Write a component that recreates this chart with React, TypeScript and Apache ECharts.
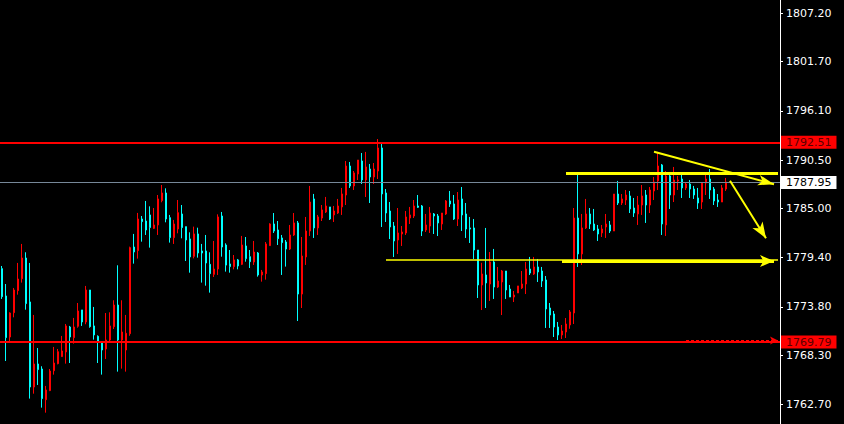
import React, { useEffect, useRef } from "react";
import * as echarts from "echarts";

// OHLC values (one candle every slot, oldest first)
const opens = [
  1778.14, 1775.03, 1770.36, 1773.13, 1775.64, 1777.0, 1779.35, 1774.35, 1764.67, 1767.29,
  1766.72, 1763.23, 1764.26, 1766.53, 1767.33, 1768.13, 1768.66, 1771.5, 1770.29, 1771.58,
  1773.44, 1772.07, 1775.71, 1771.62, 1770.44, 1769.76, 1769.0, 1770.02, 1771.54, 1774.0,
  1770.02, 1768.88, 1770.74, 1780.6, 1780.19, 1783.79, 1783.56, 1784.25, 1782.73, 1783.11,
  1785.88, 1786.75, 1783.94, 1781.67, 1782.65, 1784.36, 1782.92, 1781.52, 1779.54, 1782.09,
  1780.15, 1780.15, 1778.63, 1777.49, 1778.1, 1784.13, 1780.83, 1778.67, 1778.37, 1779.13,
  1778.63, 1780.72, 1779.5, 1778.9, 1779.92, 1777.42, 1777.57, 1780.76, 1783.22, 1782.54,
  1781.63, 1781.17, 1780.37, 1781.97, 1783.34, 1775.25, 1779.47, 1782.42, 1786.07, 1782.77,
  1783.9, 1784.59, 1785.16, 1784.25, 1784.47, 1785.16, 1786.52, 1789.82, 1787.55, 1788.91,
  1790.39, 1788.23, 1789.48, 1788.57, 1789.25, 1791.87, 1786.75, 1784.7, 1782.99, 1781.4,
  1782.08, 1782.2, 1783.9, 1784.13, 1785.27, 1785.27, 1782.54, 1782.99, 1784.36, 1784.13,
  1783.22, 1784.36, 1785.84, 1785.5, 1783.79, 1786.07, 1784.36, 1782.77, 1782.77, 1780.26,
  1776.28, 1777.42, 1776.39, 1778.9, 1776.05, 1776.62, 1777.87, 1775.82, 1774.91, 1775.37,
  1775.94, 1776.39, 1778.1, 1777.53, 1778.33, 1777.87, 1776.85, 1773.66, 1772.98, 1771.5,
  1770.59, 1770.93, 1771.73, 1773.09, 1783.9, 1779.81, 1782.77, 1784.36, 1783.22, 1782.65,
  1782.2, 1782.88, 1783.11, 1782.42, 1786.63, 1785.61, 1785.95, 1786.41, 1785.04, 1784.36,
  1785.38, 1786.52, 1785.38, 1786.98, 1788.12, 1789.94, 1783.11, 1788.69, 1786.52, 1788.12,
  1788.34, 1787.32, 1787.77, 1787.2, 1786.18, 1785.72, 1787.88, 1788.34, 1787.2, 1785.95,
  1785.72, 1787.2,
];
const closes = [
  1774.95, 1770.29, 1773.09, 1775.71, 1776.96, 1779.35, 1774.16, 1764.67, 1767.29, 1766.65,
  1763.35, 1764.33, 1766.49, 1767.4, 1768.69, 1768.77, 1771.62, 1770.36, 1771.5, 1773.32,
  1772.07, 1775.71, 1771.54, 1770.59, 1769.87, 1768.88, 1770.02, 1771.62, 1774.0, 1770.02,
  1770.93, 1770.78, 1780.53, 1780.04, 1783.79, 1783.49, 1782.54, 1782.81, 1783.11, 1786.07,
  1786.75, 1783.79, 1781.67, 1783.22, 1784.51, 1782.81, 1781.4, 1779.47, 1782.09, 1779.92,
  1779.92, 1778.78, 1777.57, 1778.1, 1784.02, 1780.6, 1778.54, 1778.37, 1779.13, 1778.44,
  1780.83, 1779.28, 1778.93, 1780.03, 1777.42, 1777.76, 1780.95, 1783.22, 1782.42, 1781.55,
  1781.1, 1780.37, 1781.97, 1783.34, 1775.25, 1779.58, 1782.42, 1785.72, 1782.77, 1784.02,
  1784.82, 1785.27, 1783.79, 1784.7, 1785.27, 1786.64, 1789.82, 1787.55, 1789.03, 1790.5,
  1788.23, 1789.71, 1788.57, 1789.48, 1791.87, 1786.64, 1784.47, 1782.88, 1781.29, 1782.2,
  1782.31, 1784.02, 1784.25, 1785.27, 1785.12, 1782.42, 1783.11, 1784.47, 1784.13, 1783.34,
  1784.47, 1785.84, 1785.5, 1783.79, 1785.95, 1784.25, 1782.65, 1782.65, 1780.26, 1776.28,
  1777.53, 1776.51, 1778.9, 1776.05, 1776.73, 1777.87, 1775.71, 1774.91, 1775.14, 1776.17,
  1776.39, 1778.1, 1777.64, 1778.33, 1777.76, 1776.73, 1773.55, 1772.86, 1771.5, 1770.59,
  1771.04, 1771.84, 1773.21, 1783.9, 1779.81, 1782.77, 1784.36, 1783.22, 1782.54, 1782.08,
  1782.65, 1783.22, 1782.42, 1786.63, 1785.61, 1786.07, 1786.52, 1784.93, 1784.47, 1785.38,
  1786.41, 1785.38, 1787.09, 1788.0, 1789.82, 1783.22, 1788.69, 1786.52, 1788.23, 1788.23,
  1787.32, 1787.77, 1787.2, 1786.52, 1785.61, 1787.88, 1788.34, 1787.09, 1785.84, 1785.72,
  1787.32, 1788.0,
];
const lows = [
  1774.69, 1767.63, 1769.91, 1772.6, 1775.18, 1776.55, 1773.47, 1763.35, 1763.91, 1764.9,
  1762.32, 1761.75, 1764.2, 1766.08, 1767.25, 1768.09, 1767.33, 1767.4, 1769.6, 1771.42,
  1771.62, 1771.81, 1771.42, 1770.06, 1767.4, 1766.08, 1767.86, 1769.83, 1771.27, 1766.42,
  1766.76, 1766.42, 1770.5, 1778.71, 1779.28, 1781.21, 1781.97, 1780.53, 1782.65, 1781.97,
  1785.69, 1783.41, 1781.1, 1780.95, 1782.16, 1781.59, 1779.01, 1777.68, 1779.31, 1779.39,
  1776.55, 1776.2, 1775.41, 1777.19, 1777.42, 1779.5, 1777.8, 1777.68, 1778.06, 1778.06,
  1778.55, 1778.93, 1778.21, 1778.56, 1777.23, 1776.66, 1776.89, 1780.72, 1782.2, 1780.83,
  1777.42, 1778.37, 1780.26, 1781.86, 1772.18, 1773.66, 1778.56, 1781.86, 1781.63, 1781.97,
  1783.56, 1784.47, 1783.68, 1783.45, 1784.36, 1784.25, 1785.38, 1787.32, 1787.09, 1788.23,
  1787.77, 1786.29, 1785.61, 1787.77, 1788.34, 1782.88, 1783.45, 1781.51, 1779.46, 1779.81,
  1780.72, 1781.97, 1783.22, 1783.9, 1785.04, 1781.85, 1782.31, 1782.2, 1782.08, 1781.85,
  1782.54, 1784.25, 1785.16, 1783.68, 1782.99, 1782.42, 1781.63, 1781.06, 1779.24, 1774.8,
  1773.43, 1773.66, 1774.46, 1774.69, 1775.94, 1772.86, 1774.69, 1774.91, 1774.34, 1775.37,
  1775.82, 1775.25, 1777.42, 1777.42, 1776.62, 1776.05, 1771.39, 1771.39, 1770.36, 1770.02,
  1770.13, 1770.25, 1771.3, 1771.84, 1778.33, 1778.55, 1782.65, 1782.65, 1782.42, 1781.29,
  1781.74, 1781.63, 1782.2, 1782.42, 1785.38, 1785.38, 1785.38, 1784.47, 1784.02, 1783.11,
  1784.25, 1783.34, 1784.47, 1785.95, 1787.09, 1781.97, 1781.86, 1784.93, 1785.72, 1787.09,
  1786.18, 1787.09, 1786.18, 1786.07, 1784.93, 1784.93, 1786.52, 1786.07, 1785.38, 1785.16,
  1785.72, 1786.98,
];
const highs = [
  1778.44, 1776.39, 1773.17, 1775.94, 1778.79, 1780.95, 1780.0, 1778.79, 1772.87, 1769.11,
  1767.03, 1764.79, 1766.72, 1769.23, 1769.0, 1770.48, 1771.84, 1771.62, 1772.53, 1774.23,
  1773.44, 1776.17, 1775.71, 1773.78, 1770.55, 1769.87, 1773.09, 1773.17, 1774.54, 1778.52,
  1774.54, 1772.87, 1780.64, 1782.09, 1784.48, 1784.13, 1785.84, 1785.23, 1785.04, 1786.52,
  1787.66, 1787.28, 1784.25, 1783.68, 1785.95, 1785.38, 1782.92, 1782.27, 1782.92, 1782.8,
  1780.95, 1781.97, 1780.0, 1781.29, 1784.32, 1784.59, 1781.02, 1780.26, 1779.69, 1779.24,
  1781.86, 1781.74, 1780.26, 1781.29, 1780.03, 1777.99, 1781.17, 1783.3, 1784.47, 1783.56,
  1781.97, 1781.4, 1783.11, 1784.47, 1783.56, 1781.74, 1784.02, 1787.55, 1786.64, 1784.25,
  1785.38, 1786.3, 1785.16, 1785.27, 1786.07, 1787.32, 1790.39, 1790.28, 1789.25, 1790.5,
  1791.3, 1791.42, 1790.05, 1790.16, 1792.89, 1792.32, 1787.2, 1785.72, 1783.45, 1785.04,
  1782.99, 1784.7, 1785.16, 1785.95, 1786.52, 1785.38, 1784.36, 1785.16, 1784.47, 1784.36,
  1784.47, 1785.95, 1786.98, 1786.52, 1786.86, 1787.43, 1785.61, 1784.02, 1783.79, 1780.26,
  1778.8, 1782.77, 1780.03, 1780.38, 1778.33, 1777.99, 1777.87, 1776.28, 1775.6, 1776.17,
  1777.87, 1778.9, 1779.47, 1779.47, 1779.24, 1778.33, 1777.3, 1774.23, 1773.32, 1772.07,
  1771.73, 1772.52, 1773.43, 1785.04, 1788.91, 1784.36, 1786.07, 1785.04, 1784.93, 1783.11,
  1783.11, 1784.36, 1783.56, 1786.63, 1788.12, 1786.63, 1787.09, 1786.98, 1786.18, 1786.41,
  1787.66, 1787.09, 1787.43, 1788.57, 1791.42, 1790.05, 1789.25, 1789.14, 1789.71, 1788.69,
  1788.8, 1788.0, 1788.23, 1787.55, 1787.32, 1788.0, 1788.91, 1789.48, 1787.43, 1786.63,
  1787.66, 1788.46,
];

// Slots on the time axis (data + empty space on the right)
const slotCount = 195;
const categories = Array.from({ length: slotCount }, (_, i) => String(i + 1));

// Right axis tick labels
const tickValues = [1807.2, 1801.7, 1796.1, 1790.5, 1785.0, 1779.4, 1773.8, 1768.3, 1762.7];

// Horizontal price levels
const resistance = 1792.51;
const support = 1769.79;
const currentPrice = 1787.95;

// Hand-drawn annotations: [slot index, price]
const thickLine = [[141, 1789.05], [194, 1789.05]];
const trendLine = [[163, 1791.45], [193, 1787.74]];
const downArrow = [[182, 1788.15], [191, 1781.59]];
const thinLevel = [[96, 1779.12], [194, 1779.12]];
const levelArrow = [[140, 1779.0], [193, 1779.0]];
const dottedLevel = [[171, 1769.95], [194, 1769.95]];

const YELLOW = "#ffff00";
const RED = "#ff0000";
const CYAN = "#00ffff";

function seg(pts: number[][], lineStyle: any, arrow: boolean, size: any = [9, 14]) {
  return [
    { coord: pts[0], symbol: "none", lineStyle },
    { coord: pts[1], symbol: arrow ? "arrow" : "none", symbolSize: size, itemStyle: { color: lineStyle.color } },
  ];
}

export default function App() {
  const ref = useRef<HTMLDivElement>(null);
  useEffect(() => {
    if (!ref.current) return;
    const chart = echarts.init(ref.current, undefined, { renderer: "svg" });
    const data = opens.map((o, i) => [o, closes[i], lows[i], highs[i]]);
    const priceLabel = (text: string, bg: string, fg: string, offsetY = 0) => ({
      show: true,
      position: "end",
      distance: 1,
      formatter: text,
      backgroundColor: bg,
      color: fg,
      fontFamily: "DejaVu Sans",
      fontSize: 11,
      lineHeight: 11,
      padding: [1, 5, 1, 5],
      offset: [0, offsetY],
    });
    chart.setOption({
      animation: false,
      backgroundColor: "#000000",
      grid: { left: 0, right: 64, top: 0, bottom: 0 },
      xAxis: {
        type: "category",
        data: categories,
        boundaryGap: true,
        show: false,
      },
      yAxis: {
        type: "value",
        position: "right",
        min: 1760.46,
        max: 1808.71,
        scale: true,
        splitLine: { show: false },
        axisLine: { show: true, lineStyle: { color: "#ffffff", width: 1 } },
        axisTick: { show: true, length: 3, inside: false, customValues: tickValues, lineStyle: { color: "#ffffff" } },
        axisLabel: {
          customValues: tickValues,
          formatter: (v: number) => v.toFixed(2),
          color: "#ffffff",
          fontFamily: "DejaVu Sans",
          fontSize: 11,
          lineHeight: 11,
          margin: 6,
        },
      },
      series: [
        {
          type: "candlestick",
          data,
          barWidth: 2,
          itemStyle: {
            color: RED,
            color0: CYAN,
            borderColor: RED,
            borderColor0: CYAN,
            borderWidth: 1,
          },
          markLine: {
            silent: true,
            symbol: "none",
            animation: false,
            data: [
              { yAxis: resistance, lineStyle: { color: RED, width: 2, type: "solid" }, label: priceLabel("1792.51", RED, "#5a0000") },
              { yAxis: support, lineStyle: { color: RED, width: 2, type: "solid" }, label: priceLabel("1769.79", RED, "#5a0000", 0) },
              { yAxis: currentPrice, lineStyle: { color: "#778899", width: 1, type: "solid" }, label: priceLabel("1787.95", "#ffffff", "#000000") },
              seg(thickLine, { color: YELLOW, width: 3, type: "solid" }, false),
              seg(trendLine, { color: YELLOW, width: 2, type: "solid" }, true, [8, 16]),
              seg(downArrow, { color: YELLOW, width: 2, type: "solid" }, true, [9, 16]),
              seg(thinLevel, { color: YELLOW, width: 1.5, type: "solid" }, false),
              seg(levelArrow, { color: YELLOW, width: 3, type: "solid" }, true, [9, 14]),
              seg(dottedLevel, { color: RED, width: 2, type: [3, 2] }, true, [6, 8]),
            ],
          },
        },
      ],
    });
    return () => chart.dispose();
  }, []);
  return (
    <div
      ref={ref}
      style={{ position: "absolute", left: 0, top: 0, width: 844, height: 424, background: "#000" }}
    />
  );
}
